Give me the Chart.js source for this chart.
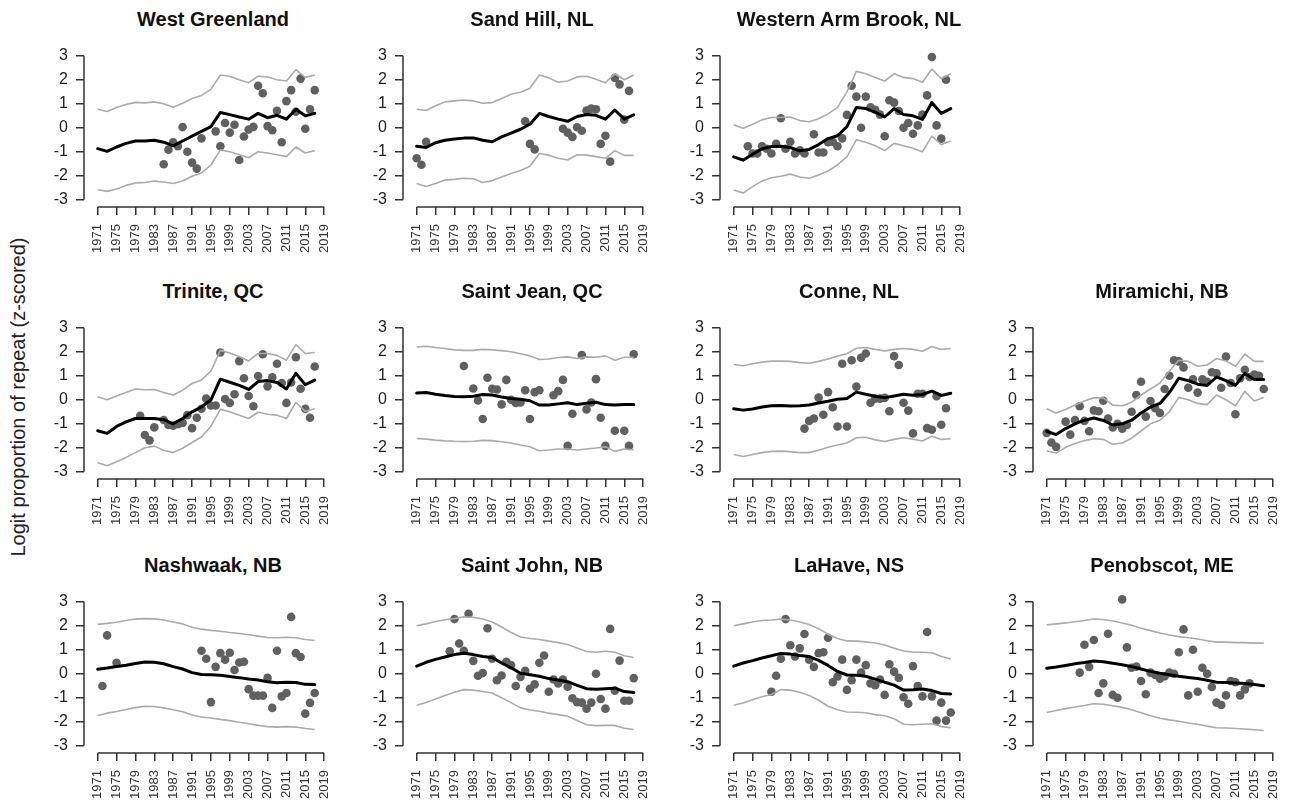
<!DOCTYPE html>
<html>
<head>
<meta charset="utf-8">
<script src="https://cdn.jsdelivr.net/npm/chart.js@4.4.0/dist/chart.umd.min.js"></script>
<style>
  body { margin: 0; background: #fff; width: 1290px; height: 805px; position: relative; overflow: hidden;
         font-family: "Liberation Sans", Arial, Helvetica, sans-serif; }
  canvas { position: absolute; }
  .ttl { position: absolute; width: 300px; text-align: center; font-weight: bold; font-size: 20px;
         line-height: 24px; color: #111; white-space: nowrap; }
  .ylab { position: absolute; width: 500px; height: 24px; line-height: 24px; text-align: center;
          font-size: 20px; color: #222; transform: rotate(-90deg); white-space: nowrap; }
</style>
</head>
<body>
<div class="ylab" style="left:-232px; top:385px;">Logit proportion of repeat (z-scored)</div>
<script>
// shared axes
const yearTicks = [1971, 1975, 1979, 1983, 1987, 1991, 1995, 1999, 2003, 2007, 2011, 2015, 2019];
const yTicks = [-3, -2, -1, 0, 1, 2, 3];
// years of the smoothed line and its bounds
const lineYears = [1971, 1973, 1975, 1977, 1979, 1981, 1983, 1985, 1987, 1989, 1991, 1993,
                   1995, 1997, 1999, 2001, 2003, 2005, 2007, 2009, 2011, 2013, 2015, 2017];

// West Greenland
const wgYears = [1985,1986,1987,1988,1989,1990,1991,1992,1993,1996,1997,1998,1999,2000,2001,2002,2003,2004,2005,2006,2007,2008,2009,2010,2011,2012,2013,2014,2015,2016,2017];
const wgObs = [-1.52,-0.91,-0.6,-0.77,0.03,-1.0,-1.45,-1.7,-0.44,-0.15,-0.77,0.2,-0.2,0.13,-1.34,-0.36,-0.07,0.04,1.75,1.44,0.07,-0.1,0.71,-0.6,1.11,1.57,0.67,2.05,-0.04,0.77,1.57];
const wgMid = [-0.87,-0.98,-0.8,-0.65,-0.55,-0.55,-0.52,-0.6,-0.75,-0.55,-0.35,-0.15,0.05,0.64,0.55,0.45,0.36,0.6,0.42,0.52,0.36,0.77,0.5,0.6];
const wgUp = [0.77,0.68,0.85,0.97,1.06,1.04,1.08,1.0,0.86,1.02,1.22,1.35,1.6,2.2,2.15,2.0,1.88,2.15,2.12,2.0,1.95,2.42,2.1,2.2];
const wgLo = [-2.58,-2.65,-2.55,-2.4,-2.3,-2.28,-2.22,-2.26,-2.32,-2.22,-2.02,-1.88,-1.55,-0.92,-1.0,-1.12,-1.25,-1.0,-1.05,-1.12,-1.2,-0.8,-1.05,-0.95];

// Sand Hill, NL
const shYears = [1971,1972,1973,1994,1995,1996,2002,2003,2004,2005,2006,2007,2008,2009,2010,2011,2012,2013,2014,2015,2016];
const shObs = [-1.27,-1.54,-0.58,0.27,-0.67,-0.9,-0.04,-0.2,-0.38,0.02,-0.12,0.72,0.8,0.77,-0.67,-0.33,-1.41,2.08,1.81,0.34,1.54];
const shMid = [-0.77,-0.82,-0.62,-0.52,-0.47,-0.43,-0.42,-0.52,-0.58,-0.38,-0.22,-0.06,0.15,0.6,0.47,0.36,0.27,0.47,0.55,0.52,0.36,0.74,0.36,0.54];
const shUp = [0.77,0.72,0.92,1.08,1.12,1.16,1.12,1.02,1.05,1.22,1.4,1.48,1.65,2.2,2.08,1.9,1.95,2.12,2.15,2.02,1.88,2.25,2.0,2.2];
const shLo = [-2.32,-2.45,-2.32,-2.18,-2.15,-2.1,-2.12,-2.28,-2.2,-2.05,-1.9,-1.78,-1.6,-1.07,-1.14,-1.27,-1.34,-1.12,-1.14,-1.2,-1.27,-0.95,-1.15,-1.15];

// Western Arm Brook, NL
const waYears = [1974,1975,1976,1977,1978,1979,1980,1981,1982,1983,1984,1985,1986,1988,1989,1990,1991,1992,1993,1994,1995,1996,1997,1998,1999,2000,2001,2002,2003,2004,2005,2006,2007,2008,2009,2010,2011,2012,2013,2014,2015,2016];
const waObs = [-0.77,-1.07,-1.07,-0.77,-0.87,-1.07,-0.67,0.4,-0.87,-0.58,-1.07,-0.94,-1.07,-0.27,-1.03,-1.03,-0.6,-0.58,-0.77,-0.44,0.54,1.75,1.3,0.0,1.3,0.85,0.75,0.55,-0.35,1.15,1.05,0.7,0.0,0.2,-0.25,0.1,0.55,1.35,2.95,0.1,-0.45,2.0];
const waMid = [-1.21,-1.35,-1.1,-0.88,-0.78,-0.77,-0.82,-0.96,-0.9,-0.7,-0.45,-0.33,0.05,0.85,0.8,0.65,0.45,0.8,0.55,0.5,0.35,1.05,0.6,0.8];
const waUp = [0.13,-0.02,0.15,0.33,0.43,0.43,0.45,0.3,0.25,0.38,0.58,0.85,1.5,2.35,2.25,2.1,1.95,2.25,2.1,2.05,1.9,2.45,2.05,2.25];
const waLo = [-2.59,-2.72,-2.45,-2.22,-2.08,-2.02,-1.93,-2.05,-2.1,-1.97,-1.8,-1.55,-1.2,-0.5,-0.6,-0.75,-0.95,-0.65,-0.75,-0.85,-1.0,-0.35,-0.7,-0.55];

// Trinite, QC
const trYears = [1980,1981,1982,1983,1985,1986,1987,1988,1989,1990,1991,1992,1993,1994,1995,1996,1997,1998,1999,2000,2001,2002,2003,2004,2005,2006,2007,2008,2009,2010,2011,2012,2013,2014,2015,2016,2017];
const trObs = [-0.67,-1.47,-1.69,-1.15,-0.84,-1.05,-1.08,-1.02,-0.96,-0.64,-1.18,-0.75,-0.37,0.05,-0.24,-0.24,1.97,0.03,-0.13,0.23,1.61,0.9,0.16,-0.27,0.99,1.9,0.56,0.94,1.5,0.7,-0.13,0.72,1.77,0.46,-0.37,-0.75,1.39];
const trMid = [-1.29,-1.4,-1.11,-0.92,-0.78,-0.78,-0.78,-0.83,-1.0,-0.78,-0.5,-0.3,0.0,0.86,0.73,0.6,0.43,0.76,0.8,0.72,0.45,1.1,0.63,0.82];
const trUp = [0.13,0.0,0.16,0.3,0.45,0.42,0.43,0.3,0.2,0.4,0.68,0.83,1.2,2.06,1.95,1.8,1.62,1.93,1.93,1.85,1.65,2.3,1.93,1.97];
const trLo = [-2.62,-2.75,-2.58,-2.4,-2.2,-2.0,-1.93,-2.1,-2.2,-2.02,-1.78,-1.55,-1.1,-0.4,-0.5,-0.64,-0.78,-0.52,-0.6,-0.64,-0.78,-0.11,-0.48,-0.37];

// Saint Jean, QC
const sjYears = [1981,1983,1984,1985,1986,1987,1988,1989,1990,1991,1992,1993,1994,1995,1996,1997,2000,2001,2002,2003,2004,2006,2007,2008,2009,2010,2011,2013,2015,2016,2017];
const sjObs = [1.41,0.47,-0.03,-0.8,0.92,0.46,0.43,-0.19,0.83,0.0,-0.13,-0.11,0.4,-0.8,0.32,0.4,0.19,0.36,0.83,-1.92,-0.58,1.86,-0.4,-0.11,0.86,-0.75,-1.92,-1.29,-1.29,-1.92,1.9];
const sjMid = [0.28,0.3,0.23,0.18,0.14,0.13,0.15,0.22,0.2,0.12,0.05,0.02,-0.04,-0.22,-0.22,-0.17,-0.12,-0.2,-0.14,-0.1,-0.2,-0.22,-0.2,-0.2];
const sjUp = [2.2,2.23,2.18,2.14,2.08,2.06,2.06,2.1,2.08,2.05,2.0,1.92,1.83,1.68,1.7,1.76,1.79,1.72,1.79,1.77,1.83,1.65,1.77,1.77];
const sjLo = [-1.61,-1.64,-1.68,-1.71,-1.73,-1.74,-1.73,-1.69,-1.7,-1.75,-1.8,-1.88,-1.96,-2.12,-2.09,-2.05,-2.05,-2.09,-2.05,-2.01,-1.96,-2.15,-2.05,-2.08];

// Conne, NL
const coYears = [1986,1987,1988,1989,1990,1991,1992,1993,1994,1995,1996,1997,1998,1999,2000,2001,2002,2003,2004,2005,2006,2007,2008,2009,2010,2011,2012,2013,2014,2015,2016];
const coObs = [-1.2,-0.88,-0.78,0.09,-0.62,0.32,-0.31,-1.11,1.5,-1.11,1.65,0.55,1.75,1.93,-0.12,0.05,0.05,0.08,-0.48,1.82,1.45,-0.12,-0.45,-1.4,0.25,0.25,-1.18,-1.25,0.15,-1.04,-0.35];
const coMid = [-0.37,-0.43,-0.38,-0.3,-0.25,-0.24,-0.26,-0.25,-0.22,-0.13,-0.06,0.02,0.05,0.32,0.23,0.15,0.09,0.16,0.23,0.19,0.22,0.36,0.18,0.27];
const coUp = [1.47,1.42,1.5,1.57,1.61,1.61,1.6,1.55,1.52,1.6,1.7,1.82,1.92,2.15,2.18,2.1,2.04,2.1,2.14,2.1,2.02,2.22,2.1,2.14];
const coLo = [-2.28,-2.36,-2.28,-2.2,-2.15,-2.14,-2.16,-2.2,-2.2,-2.1,-1.98,-1.88,-1.8,-1.58,-1.56,-1.67,-1.74,-1.65,-1.58,-1.64,-1.72,-1.52,-1.65,-1.62];

// Miramichi, NB
const miYears = [1971,1972,1973,1975,1976,1977,1978,1979,1980,1981,1982,1983,1984,1985,1986,1987,1988,1989,1990,1991,1992,1993,1994,1995,1996,1997,1998,1999,2000,2001,2002,2003,2004,2005,2006,2007,2008,2009,2010,2011,2012,2013,2014,2015,2016,2017];
const miObs = [-1.38,-1.78,-1.96,-0.91,-1.45,-0.84,-0.27,-0.88,-1.31,-0.44,-0.48,-0.04,-0.78,-1.15,-1.0,-1.2,-1.05,-0.5,0.2,0.75,-0.7,-0.05,-0.35,-0.55,0.45,1.0,1.65,1.6,1.35,0.5,0.85,0.3,0.85,0.75,1.15,1.1,0.5,1.8,0.7,-0.6,0.9,1.25,0.95,1.05,1.0,0.45];
const miMid = [-1.31,-1.45,-1.2,-1.0,-0.85,-0.76,-0.86,-1.05,-1.0,-0.85,-0.55,-0.3,-0.15,0.3,0.9,0.8,0.65,0.6,0.95,0.8,0.6,1.1,0.85,0.85];
const miUp = [-0.37,-0.55,-0.4,-0.22,-0.05,0.08,0.08,-0.22,-0.25,-0.1,0.2,0.45,0.7,1.2,1.65,1.6,1.4,1.45,1.72,1.62,1.4,1.9,1.6,1.6];
const miLo = [-2.12,-2.22,-1.98,-1.82,-1.7,-1.62,-1.65,-1.85,-1.8,-1.6,-1.3,-1.0,-0.85,-0.5,0.1,0.0,-0.15,-0.2,0.2,0.0,-0.25,0.35,-0.05,0.1];

// Nashwaak, NB
const naYears = [1972,1973,1975,1993,1994,1995,1996,1997,1998,1999,2000,2001,2002,2003,2004,2005,2006,2007,2008,2009,2010,2011,2012,2013,2014,2015,2016,2017];
const naObs = [-0.51,1.6,0.46,0.96,0.63,-1.18,0.29,0.86,0.59,0.88,0.16,0.47,0.5,-0.64,-0.91,-0.91,-0.91,-0.17,-1.42,0.96,-0.94,-0.8,2.37,0.86,0.7,-1.66,-1.21,-0.8];
const naMid = [0.19,0.24,0.3,0.36,0.43,0.49,0.48,0.42,0.3,0.2,0.05,-0.03,-0.04,-0.06,-0.11,-0.16,-0.22,-0.26,-0.33,-0.37,-0.35,-0.36,-0.44,-0.45];
const naUp = [2.06,2.1,2.15,2.22,2.28,2.3,2.29,2.24,2.16,2.08,1.94,1.86,1.81,1.77,1.72,1.68,1.63,1.57,1.51,1.5,1.52,1.5,1.43,1.39];
const naLo = [-1.74,-1.64,-1.57,-1.49,-1.41,-1.35,-1.36,-1.42,-1.5,-1.58,-1.72,-1.8,-1.84,-1.9,-1.95,-2.02,-2.08,-2.15,-2.2,-2.22,-2.2,-2.22,-2.28,-2.32];

// Saint John, NB
const snYears = [1978,1979,1980,1981,1982,1983,1984,1985,1986,1987,1988,1989,1990,1991,1992,1993,1994,1995,1996,1997,1998,1999,2000,2001,2002,2003,2004,2005,2006,2007,2008,2009,2010,2011,2012,2013,2014,2015,2016,2017];
const snObs = [0.94,2.28,1.26,0.96,2.5,0.54,-0.08,0.03,1.9,0.63,-0.27,-0.07,0.5,0.36,-0.51,-0.13,0.13,-0.62,-0.44,0.46,0.76,-0.75,-0.24,-0.4,-0.24,-0.54,-1.02,-1.18,-1.2,-1.45,-1.2,0.0,-1.05,-1.45,1.87,-0.7,0.55,-1.12,-1.12,-0.18];
const snMid = [0.32,0.48,0.6,0.7,0.8,0.86,0.8,0.72,0.68,0.45,0.25,0.02,-0.04,-0.1,-0.2,-0.26,-0.33,-0.48,-0.62,-0.64,-0.62,-0.6,-0.74,-0.78];
const snUp = [2.0,2.08,2.18,2.25,2.3,2.38,2.35,2.28,2.16,1.95,1.72,1.53,1.47,1.43,1.36,1.3,1.22,1.08,0.93,0.9,0.94,0.9,0.75,0.68];
const snLo = [-1.31,-1.2,-1.05,-0.9,-0.77,-0.66,-0.68,-0.74,-0.8,-1.0,-1.2,-1.42,-1.51,-1.56,-1.64,-1.7,-1.77,-1.95,-2.12,-2.16,-2.15,-2.15,-2.27,-2.32];

// LaHave, NS
const laYears = [1979,1980,1981,1982,1983,1984,1985,1986,1987,1988,1989,1990,1991,1992,1993,1994,1995,1996,1997,1998,1999,2000,2001,2002,2003,2004,2005,2006,2007,2008,2009,2010,2011,2012,2013,2014,2015,2016,2017];
const laObs = [-0.75,-0.08,0.63,2.28,1.19,0.72,1.06,1.66,0.59,0.29,0.86,0.9,1.5,-0.35,-0.11,0.59,-0.67,-0.27,0.59,0.05,0.36,-0.4,-0.48,-0.24,-0.88,0.4,0.09,-0.17,-0.98,-1.25,0.32,-0.51,-0.94,1.74,-0.94,-1.95,-1.2,-1.95,-1.61];
const laMid = [0.32,0.45,0.55,0.66,0.75,0.85,0.82,0.76,0.72,0.56,0.35,0.1,-0.05,-0.06,-0.1,-0.22,-0.35,-0.47,-0.68,-0.66,-0.63,-0.7,-0.82,-0.84];
const laUp = [2.0,2.08,2.16,2.22,2.24,2.28,2.24,2.16,2.05,1.88,1.65,1.47,1.37,1.36,1.33,1.28,1.2,1.07,0.95,0.9,0.9,0.88,0.72,0.63];
const laLo = [-1.31,-1.22,-1.08,-0.96,-0.86,-0.66,-0.68,-0.77,-0.9,-1.1,-1.35,-1.5,-1.59,-1.6,-1.62,-1.7,-1.75,-1.87,-2.1,-2.12,-2.1,-2.08,-2.2,-2.25];

// Penobscot, ME
const peYears = [1978,1979,1980,1981,1982,1983,1984,1985,1986,1987,1988,1989,1990,1991,1992,1993,1994,1995,1996,1997,1998,1999,2000,2001,2002,2003,2004,2005,2006,2007,2008,2009,2010,2011,2012,2013,2014];
const peObs = [0.05,1.21,0.29,1.41,-0.8,-0.4,1.67,-0.88,-1.0,3.1,1.1,0.25,0.3,-0.3,-0.85,0.05,-0.05,-0.2,-0.1,0.05,0.0,0.9,1.85,-0.9,1.0,-0.75,0.25,0.0,-0.55,-1.2,-1.3,-0.9,-0.3,-0.35,-0.9,-0.65,-0.4];
const peMid = [0.23,0.28,0.35,0.42,0.47,0.53,0.5,0.44,0.38,0.3,0.2,0.1,0.02,-0.04,-0.1,-0.15,-0.2,-0.27,-0.35,-0.36,-0.38,-0.4,-0.45,-0.5];
const peUp = [2.04,2.08,2.12,2.17,2.22,2.28,2.26,2.2,2.12,2.02,1.9,1.8,1.7,1.62,1.55,1.5,1.45,1.38,1.32,1.32,1.3,1.3,1.28,1.28];
const peLo = [-1.61,-1.53,-1.45,-1.38,-1.32,-1.25,-1.27,-1.33,-1.4,-1.5,-1.62,-1.75,-1.85,-1.92,-1.98,-2.05,-2.1,-2.18,-2.25,-2.26,-2.28,-2.3,-2.33,-2.36];

const sites = [
  { name: 'West Greenland',        row: 0, col: 0, years: wgYears, obs: wgObs, mid: wgMid, up: wgUp, lo: wgLo },
  { name: 'Sand Hill, NL',         row: 0, col: 1, years: shYears, obs: shObs, mid: shMid, up: shUp, lo: shLo },
  { name: 'Western Arm Brook, NL', row: 0, col: 2, years: waYears, obs: waObs, mid: waMid, up: waUp, lo: waLo },
  { name: 'Trinite, QC',           row: 1, col: 0, years: trYears, obs: trObs, mid: trMid, up: trUp, lo: trLo },
  { name: 'Saint Jean, QC',        row: 1, col: 1, years: sjYears, obs: sjObs, mid: sjMid, up: sjUp, lo: sjLo },
  { name: 'Conne, NL',             row: 1, col: 2, years: coYears, obs: coObs, mid: coMid, up: coUp, lo: coLo },
  { name: 'Miramichi, NB',         row: 1, col: 3, years: miYears, obs: miObs, mid: miMid, up: miUp, lo: miLo },
  { name: 'Nashwaak, NB',          row: 2, col: 0, years: naYears, obs: naObs, mid: naMid, up: naUp, lo: naLo },
  { name: 'Saint John, NB',        row: 2, col: 1, years: snYears, obs: snObs, mid: snMid, up: snUp, lo: snLo },
  { name: 'LaHave, NS',            row: 2, col: 2, years: laYears, obs: laObs, mid: laMid, up: laUp, lo: laLo },
  { name: 'Penobscot, ME',         row: 2, col: 3, years: peYears, obs: peObs, mid: peMid, up: peUp, lo: peLo },
];

// page layout: pixel of year 1971 per column, pixel of y = 3 per row
const col1971 = [98.3, 416.7, 734, 1047.3];
const rowTop3 = [50, 322.7, 596];
const pxYear = 4.875, pxUnit = 24.85;
const xMin = 1968.1, xMax = 2020, yMin = -3.3, yMax = 3.3;
const axisW = 70, axisH = 62, padTop = 12, padRight = 12;
const fontFam = '"Liberation Sans", Arial, Helvetica, sans-serif';

// R style axes: lines only between first and last tick
const rAxes = {
  id: 'rAxes',
  afterDraw(chart) {
    const { ctx, chartArea } = chart;
    const x = chart.scales.x, y = chart.scales.y;
    ctx.save();
    ctx.strokeStyle = '#333';
    ctx.lineWidth = 1.5;
    ctx.beginPath();
    ctx.moveTo(chartArea.left, y.getPixelForValue(yTicks[0]));
    ctx.lineTo(chartArea.left, y.getPixelForValue(yTicks[yTicks.length - 1]));
    ctx.moveTo(x.getPixelForValue(yearTicks[0]), chartArea.bottom);
    ctx.lineTo(x.getPixelForValue(yearTicks[yearTicks.length - 1]), chartArea.bottom);
    ctx.stroke();
    ctx.restore();
  }
};

function toXY(xs, ys) {
  return xs.map((v, i) => ({ x: v, y: ys[i] }));
}

sites.forEach(site => {
  const chartLeft = col1971[site.col] - (1971 - xMin) * pxYear;
  const chartTop = rowTop3[site.row] - (yMax - 3) * pxUnit;
  const areaW = (xMax - xMin) * pxYear;
  const areaH = (yMax - yMin) * pxUnit;

  const canvas = document.createElement('canvas');
  canvas.width = Math.round(axisW + areaW + padRight);
  canvas.height = Math.round(padTop + areaH + axisH);
  canvas.style.left = Math.round(chartLeft - axisW) + 'px';
  canvas.style.top = Math.round(chartTop - padTop) + 'px';
  document.body.appendChild(canvas);

  const title = document.createElement('div');
  title.className = 'ttl';
  title.textContent = site.name;
  title.style.left = Math.round(col1971[site.col] + 115 - 150) + 'px';
  title.style.top = Math.round(rowTop3[site.row] - 31.5 - 12) + 'px';
  document.body.appendChild(title);

  new Chart(canvas, {
    type: 'scatter',
    data: {
      datasets: [
        { data: toXY(lineYears, site.mid), showLine: true, borderColor: '#000', borderWidth: 3,
          pointRadius: 0, borderJoinStyle: 'round', borderCapStyle: 'round' },
        { data: toXY(lineYears, site.up), showLine: true, borderColor: '#ababab', borderWidth: 1.6,
          pointRadius: 0, borderJoinStyle: 'round' },
        { data: toXY(lineYears, site.lo), showLine: true, borderColor: '#ababab', borderWidth: 1.6,
          pointRadius: 0, borderJoinStyle: 'round' },
        { data: toXY(site.years, site.obs), backgroundColor: '#606060', borderWidth: 0, pointRadius: 4.3 }
      ]
    },
    options: {
      responsive: false,
      animation: false,
      devicePixelRatio: 1,
      layout: { padding: { top: padTop, right: padRight, left: 0, bottom: 0 } },
      plugins: { legend: { display: false }, tooltip: { enabled: false } },
      scales: {
        x: {
          type: 'linear', min: xMin, max: xMax,
          afterBuildTicks: s => { s.ticks = yearTicks.map(v => ({ value: v })); },
          afterFit: s => { s.height = axisH; },
          border: { display: false },
          grid: { drawOnChartArea: false, drawTicks: true, tickLength: 8, tickColor: '#333', lineWidth: 1.5 },
          ticks: { autoSkip: false, minRotation: 90, maxRotation: 90, padding: 9, color: '#333',
                   font: { size: 13, family: fontFam }, callback: v => String(v) }
        },
        y: {
          type: 'linear', min: yMin, max: yMax,
          afterBuildTicks: s => { s.ticks = yTicks.map(v => ({ value: v })); },
          afterFit: s => { s.width = axisW; },
          border: { display: false },
          grid: { drawOnChartArea: false, drawTicks: true, tickLength: 8, tickColor: '#333', lineWidth: 1.5 },
          ticks: { padding: 8, color: '#222', font: { size: 16, family: fontFam }, callback: v => String(v) }
        }
      }
    },
    plugins: [rAxes]
  });
});
</script>
</body>
</html>
